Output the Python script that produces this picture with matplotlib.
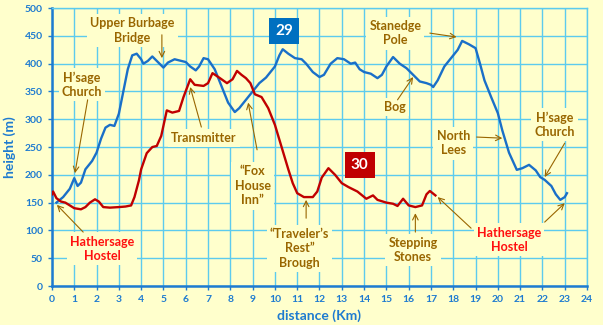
import matplotlib.pyplot as plt
import matplotlib.ticker as mticker

plt.rcParams['font.family'] = ['Lato', 'DejaVu Sans']
plt.rcParams['font.weight'] = 'bold'

# ── route 29 (blue) ──────────────────────────────────────────────────────────
dist_29 = [0.2, 0.5, 0.8, 1.0, 1.15, 1.3, 1.5, 1.8, 2.0, 2.2, 2.4, 2.6, 2.8,
           3.0, 3.2, 3.4, 3.6, 3.8, 4.0, 4.1, 4.3, 4.5, 4.7, 4.9, 5.0, 5.2,
           5.5, 5.8, 6.0, 6.2, 6.45, 6.6, 6.8, 7.0, 7.3, 7.6, 7.9, 8.2, 8.4,
           8.7, 9.0, 9.3, 9.6, 10.0, 10.2, 10.35, 10.6, 10.9, 11.2, 11.4,
           11.7, 12.0, 12.2, 12.5, 12.8, 13.1, 13.4, 13.6, 13.8, 14.0, 14.3,
           14.6, 14.8, 15.0, 15.3, 15.6, 15.9, 16.2, 16.5, 16.8, 17.0, 17.1,
           17.3, 17.6, 17.9, 18.2, 18.4, 18.7, 19.0, 19.2, 19.4, 19.7, 20.0,
           20.2, 20.5, 20.85, 21.1, 21.4, 21.7, 21.9, 22.1, 22.4, 22.6, 22.8,
           23.0, 23.1]
elev_29 = [150, 160, 175, 194, 180, 186, 210, 225, 240, 265, 285, 290, 288,
           310, 350, 390, 415, 418, 408, 400, 405, 413, 405, 397, 393, 402,
           408, 405, 403, 395, 388, 395, 410, 408, 390, 360, 330, 313, 320,
           335, 350, 365, 375, 395, 415, 426, 418, 410, 408, 400,
           385, 376, 380, 400, 410, 408, 400, 402, 390, 385, 382,
           374, 380, 395, 412, 400, 392, 380, 368, 365, 362, 358,
           370, 395, 410, 425, 441, 435, 428, 400, 370, 340, 311,
           280, 240, 209, 212, 218, 208, 196, 191, 180, 165, 155,
           160, 167]

# ── route 30 (red) ───────────────────────────────────────────────────────────
dist_30 = [0.0, 0.05, 0.2, 0.4, 0.6, 0.8, 1.0, 1.3, 1.5, 1.7, 1.93, 2.1, 2.3,
           2.6, 3.0, 3.3, 3.55, 3.7, 3.9, 4.0, 4.25, 4.5, 4.7, 4.9, 5.15,
           5.4, 5.7, 5.9, 6.2, 6.4, 6.8, 7.0, 7.2, 7.5, 7.85, 8.1, 8.3, 8.5,
           8.7, 8.9, 9.1, 9.4, 9.7, 10.0, 10.3, 10.6, 10.8, 11.0, 11.3, 11.7,
           11.9, 12.1, 12.4, 12.7, 13.0, 13.3, 13.7, 14.1, 14.4, 14.6, 15.0,
           15.3, 15.5, 15.75, 16.0, 16.3, 16.6, 16.8, 16.95, 17.2]
elev_30 = [165, 170, 158, 152, 150, 145, 140, 138, 142, 150, 156, 152, 142,
           141, 142, 143, 145, 160, 190, 210, 239, 250, 252, 270, 316,
           312, 315, 340, 372, 362, 360, 365, 383, 375, 365, 372, 387, 380,
           374, 365, 345, 340, 320, 290, 250, 210, 185, 167, 160, 160,
           170, 195, 212, 200, 185, 178, 170, 157, 163, 155, 150,
           148, 144, 157, 145, 142, 145, 165, 171, 163]

# label text, text centre (x, y), arrow tail and head, colour
LABELS = [
    ("Upper Burbage\nBridge",      (3.6, 460),  [((4.93, 452), (4.93, 410))], "brown"),
    ("H\u2019sage\nChurch",        (1.35, 362), [((1.6, 335), (1.03, 203))], "brown"),
    ("Transmitter",                (6.8, 266),  [((6.7, 286), (6.2, 358))], "brown"),
    ("\u201cFox\nHouse\nInn\u201d", (9.0, 180), [((9.2, 245), (8.8, 330))], "brown"),
    ("\u201cTraveler\u2019s\nRest\u201d\nBrough", (11.1, 68), [((11.4, 122), (11.4, 155))], "brown"),
    ("Stepping\nStones",           (16.2, 65),  [((16.3, 97), (16.3, 131))], "brown"),
    ("Hathersage\nHostel",         (2.25, 67),  [((1.4, 97), (0.22, 146))], "red"),
    ("Hathersage\nHostel",         (20.5, 83),  [((18.8, 104), (17.3, 160)),
                                                 ((22.1, 115), (23.0, 149))], "red"),
    ("Stanedge\nPole",             (15.4, 455), [((16.95, 455), (18.15, 448))], "brown"),
    ("Bog",                        (15.4, 322), [((15.5, 335), (16.2, 376))], "brown"),
    ("North\nLees",                (18.0, 257), [((19.05, 268), (20.2, 266))], "brown"),
    ("H\u2019sage\nChurch",        (22.55, 290), [((23.0, 257), (22.1, 196))], "brown"),
]

BG     = "#FFFFCC"
GRID   = "#5CCBEE"
AXBLUE = "#1E7BD0"
BROWN  = "#996600"
COLORS = {"brown": BROWN, "red": "#FF1010"}

fig = plt.figure(figsize=(6.03, 3.25), dpi=100, facecolor=BG)
ax = fig.add_axes([0.0862, 0.12, 0.8873, 0.855], facecolor=BG)

ax.plot(dist_29, elev_29, color="#1A6FC8", lw=1.7, zorder=3)
ax.plot(dist_30, elev_30, color="#C00000", lw=1.7, zorder=3)

for text, (tx, ty), arrows, col in LABELS:
    ax.text(tx, ty, text, ha="center", va="center", fontsize=9,
            fontweight="bold", color=COLORS[col], linespacing=1.25,
            bbox=dict(boxstyle="square,pad=0.25", fc=BG, ec="none"), zorder=4)
    for (x0, y0), (x1, y1) in arrows:
        ax.annotate("", xy=(x1, y1), xytext=(x0, y0),
                    arrowprops=dict(arrowstyle="->", color=BROWN, lw=0.8,
                                    shrinkA=0, shrinkB=0), zorder=5)

# route number boxes
ax.text(10.4, 459, "29", ha="center", va="center", fontsize=11,
        fontweight="bold", color="white", zorder=6,
        bbox=dict(boxstyle="square,pad=0.4", fc="#0070C0", ec="none"))
ax.text(13.8, 218, "30", ha="center", va="center", fontsize=11,
        fontweight="bold", color="white", zorder=6,
        bbox=dict(boxstyle="square,pad=0.4", fc="#C00000", ec="none"))

ax.set_xlim(0, 24)
ax.set_ylim(0, 500)
ax.xaxis.set_major_locator(mticker.MultipleLocator(1))
ax.yaxis.set_major_locator(mticker.MultipleLocator(50))
ax.grid(True, color=GRID, lw=1.0, zorder=0)
ax.set_axisbelow(True)

for side in ("top", "right"):
    ax.spines[side].set_color(GRID)
    ax.spines[side].set_linewidth(1.0)
for side in ("left", "bottom"):
    ax.spines[side].set_color(AXBLUE)
    ax.spines[side].set_linewidth(1.8)

ax.tick_params(colors=AXBLUE, labelsize=7.5, length=3, width=1)
for lab in ax.get_xticklabels() + ax.get_yticklabels():
    lab.set_fontweight("bold")

ax.set_xlabel("distance (Km)", color=AXBLUE, fontsize=10, fontweight="bold",
              labelpad=4)
ax.set_ylabel("height (m)", color=AXBLUE, fontsize=10, fontweight="bold",
              labelpad=6)

fig.savefig("out.png", dpi=100, facecolor=BG)
